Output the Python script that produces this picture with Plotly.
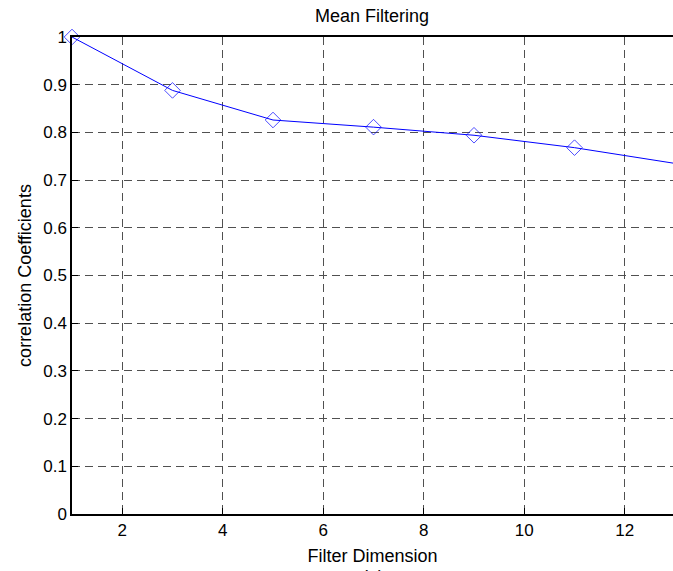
import plotly.graph_objects as go

filter_dim = [1, 3, 5, 7, 9, 11, 13]
corr = [1.0, 0.888, 0.826, 0.811, 0.794, 0.768, 0.735]
marker_sizes = [12, 12, 12, 12, 12, 12, 0]

x_ticks = [2, 4, 6, 8, 10, 12]
y_ticks = [0, 0.1, 0.2, 0.3, 0.4, 0.5, 0.6, 0.7, 0.8, 0.9, 1]
y_tick_text = ["0", "0.1", "0.2", "0.3", "0.4", "0.5", "0.6", "0.7", "0.8", "0.9", "1"]

FONT = "Liberation Sans, Arial"
W, H = 673, 571
L, T = 72, 37
PLOT_BOTTOM = 514
PLOT_H = PLOT_BOTTOM - T

fig = go.Figure()
fig.add_trace(go.Scatter(
    x=filter_dim, y=corr, mode="lines+markers",
    line=dict(color="#0000ff", width=1),
    marker=dict(symbol="diamond-open", size=marker_sizes, color="#0000ff",
                line=dict(color="#0000ff", width=1)),
    showlegend=False, cliponaxis=False,
))

axis_common = dict(
    showgrid=True, gridcolor="#505050", griddash="8px,5px", gridwidth=1,
    showline=True, linecolor="black", linewidth=1.5, mirror=True,
    ticks="inside", ticklen=6, tickcolor="black",
    tickfont=dict(family=FONT, size=17, color="black"),
    zeroline=False, automargin=False,
)

fig.update_layout(
    width=W, height=H,
    margin=dict(l=L, r=0, t=T, b=H - PLOT_BOTTOM, autoexpand=False),
    paper_bgcolor="white", plot_bgcolor="white",
    title=dict(text="Mean Filtering", x=372 / W, xanchor="center",
               y=1 - 16 / H, yanchor="middle",
               font=dict(family=FONT, size=18, color="black")),
    xaxis=dict(range=[1, 12.96], tickvals=x_ticks,
               title=dict(text="Filter Dimension", standoff=10,
                          font=dict(family=FONT, size=18, color="black")),
               **axis_common),
    yaxis=dict(range=[0, 1], tickvals=y_ticks, ticktext=y_tick_text,
               title=dict(text="correlation Coefficients", standoff=7,
                          font=dict(family=FONT, size=18, color="black")),
               **axis_common),
)

fig.add_annotation(text="(a)", xref="paper", yref="paper",
                   x=(373 - L) / (W - L),
                   y=-(565 - PLOT_BOTTOM) / PLOT_H, xanchor="center", yanchor="top",
                   showarrow=False,
                   font=dict(family=FONT, size=18, color="black"))

fig.write_html(
    "out.html",
    config={"displayModeBar": False},
    post_script="document.body.style.margin='0';document.body.style.overflow='hidden';",
)
